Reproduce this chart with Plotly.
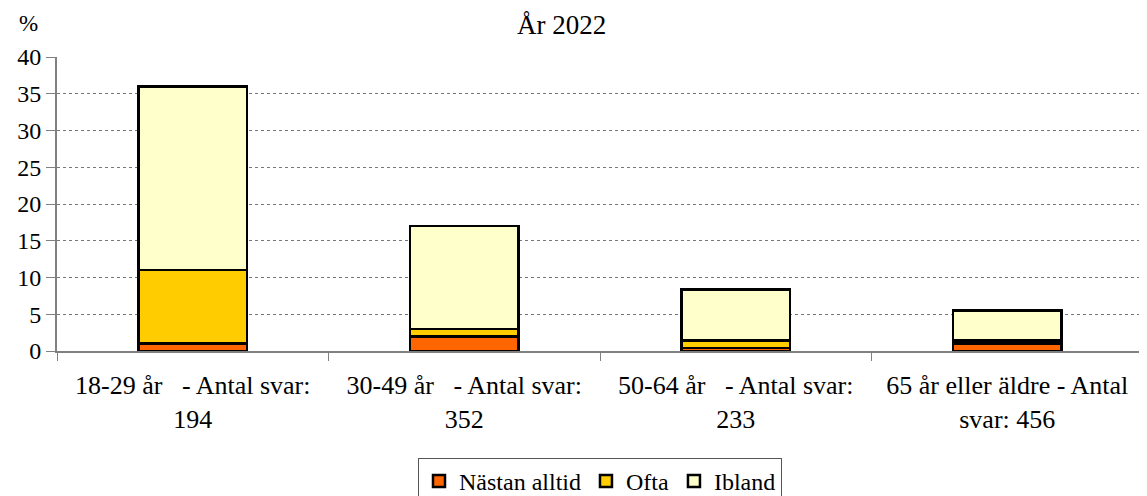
import plotly.graph_objects as go

categories = ["18-29 år&nbsp;&nbsp; - Antal svar:<br>194", "30-49 år&nbsp;&nbsp; - Antal svar:<br>352",
              "50-64 år&nbsp;&nbsp; - Antal svar:<br>233", "65 år eller äldre - Antal<br>svar: 456"]
nastan_alltid = [1.0, 2.0, 0.4, 1.0]
ofta = [10.0, 1.0, 1.0, 0.4]
ibland = [25.0, 14.0, 7.0, 4.1]
y_ticks = [0, 5, 10, 15, 20, 25, 30, 35, 40]

font = "Liberation Serif, Times New Roman, serif"
OFF = 8  # page body margin
W, H = 1147 - OFF, 496 - OFF
L, T = 57 - OFF, 57 - OFF
R = W - (1143 - OFF)
B = H - (351 - OFF)
pw, ph = W - L - R, H - T - B

def px(x):  # screen pixel x -> paper
    return (x - OFF - L) / pw

def py(y):  # screen pixel y -> paper
    return (H - B - (y - OFF)) / ph

fig = go.Figure()
for name, vals, col in [("Nästan alltid", nastan_alltid, "#FF6600"),
                        ("Ofta", ofta, "#FFCC00"),
                        ("Ibland", ibland, "#FFFFCC")]:
    fig.add_trace(go.Bar(x=categories, y=vals, name=name,
                         marker=dict(color=col, line=dict(color="black", width=2.5))))

fig.update_layout(
    barmode="stack", bargap=0.6,
    width=W, height=H,
    margin=dict(l=L, r=R, t=T, b=B, autoexpand=False),
    paper_bgcolor="white", plot_bgcolor="white",
    font=dict(family=font, size=24, color="black"),
    showlegend=True,
    legend=dict(orientation="h", traceorder="normal", x=px(418), xanchor="left",
                y=py(458), yanchor="top",
                bordercolor="#555555", borderwidth=1, font=dict(size=24),
                itemwidth=30, tracegroupgap=0),
    annotations=[
        dict(text="År 2022", x=px(561), y=py(42), xref="paper", yref="paper", showarrow=False,
             font=dict(size=27), xanchor="center", yanchor="bottom"),
        dict(text="%", x=px(28), y=py(23), xref="paper", yref="paper", showarrow=False,
             font=dict(size=23), xanchor="center", yanchor="middle"),
    ],
)

fig.update_yaxes(range=[0, 40], tickvals=y_ticks, showgrid=True, gridcolor="#777777",
                 griddash="dot", gridwidth=1, showline=True, linecolor="#808080", linewidth=2,
                 ticks="outside", ticklen=9, tickcolor="#808080", zeroline=False,
                 automargin=False, tickfont=dict(size=24))
fig.update_xaxes(showline=True, linecolor="#808080", linewidth=2, ticks="outside",
                 tickson="boundaries", ticklen=8, tickcolor="#808080", tickangle=0,
                 automargin=False, tickfont=dict(size=26), ticklabelstandoff=10)

fig.write_html("out.html")
